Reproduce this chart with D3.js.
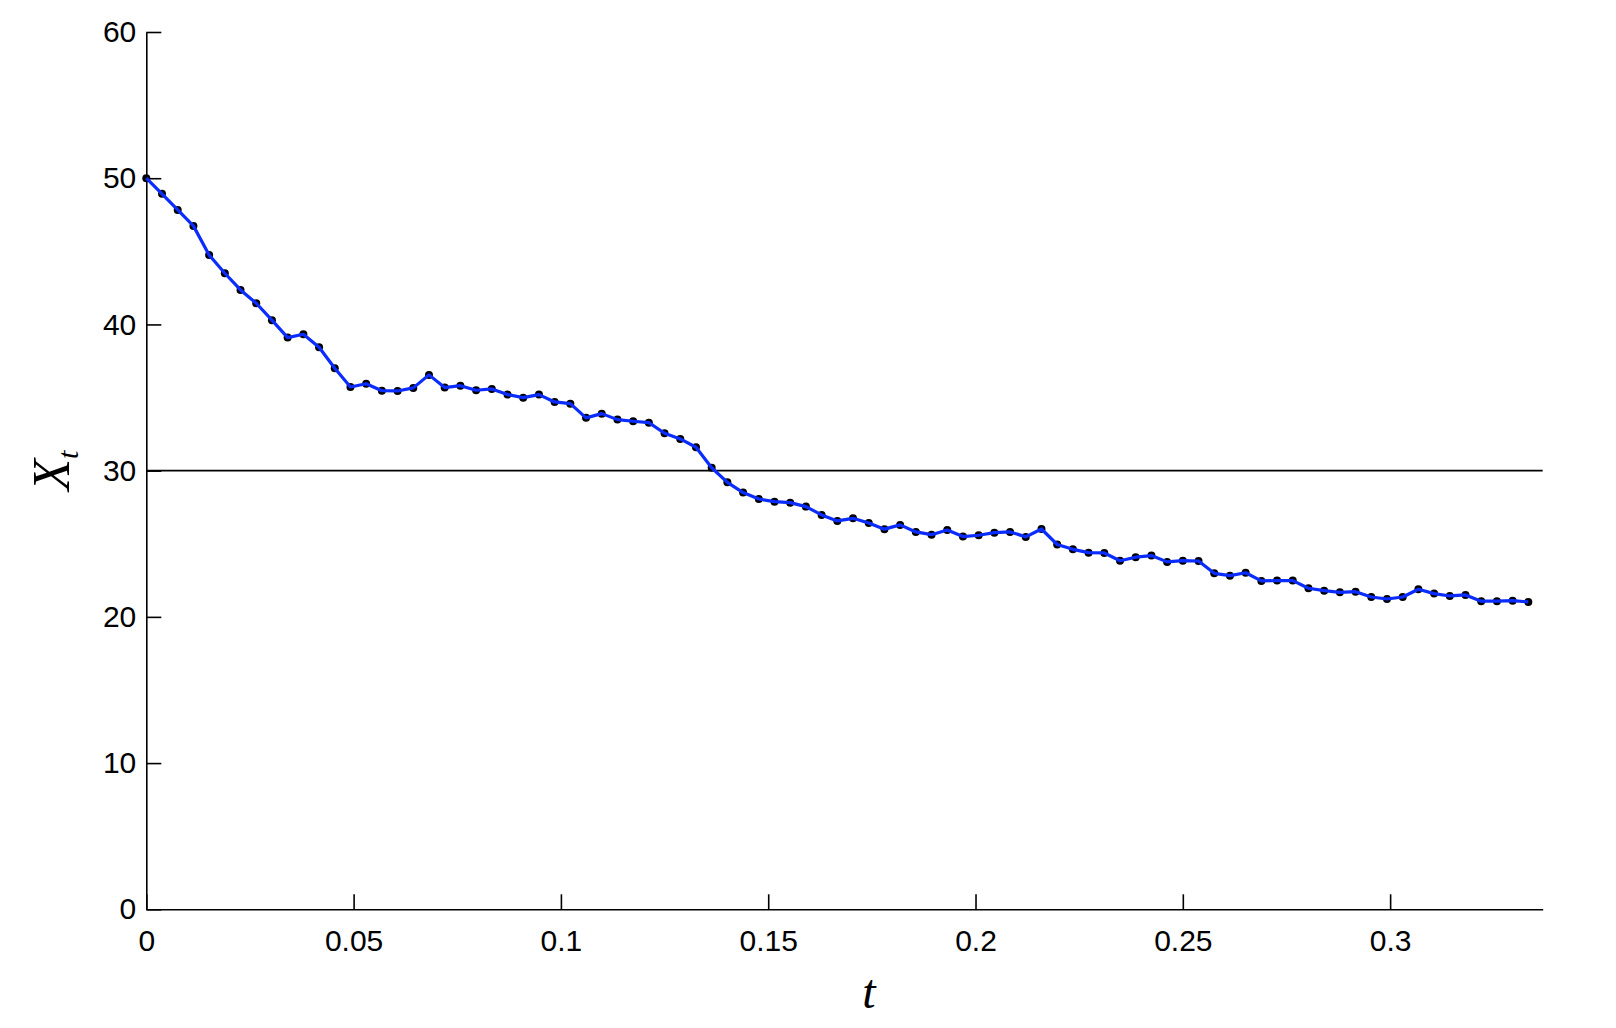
<!DOCTYPE html>
<meta charset="utf-8">
<style type="text/css">
  body {
    margin: 0;
    background: #fff;
  }

  .axis text {
    font-family: "Liberation Sans", Arial, sans-serif;
    font-size: 30px;
    fill: #000;
  }

  .axis path,
  .axis line {
    stroke: #000;
    stroke-width: 1.6px;
  }

  .label {
    font-family: "Liberation Serif", "DejaVu Serif", serif;
    font-style: italic;
  }
</style>

<body>
  <script src="https://d3js.org/d3.v7.min.js"></script>
  <script>
    var w = 1616;
    var h = 1028;

    // sample path X_t, 89 samples evenly spaced in t
    var dt = 1 / 264;
    var xVals = [50.0, 48.93, 47.83, 46.74, 44.75, 43.5, 42.36, 41.45, 40.29, 39.1,
      39.33, 38.44, 37.0, 35.72, 35.94, 35.47, 35.45, 35.66, 36.55, 35.68,
      35.81, 35.5, 35.59, 35.2, 34.99, 35.2, 34.7, 34.58, 33.61, 33.9,
      33.49, 33.38, 33.28, 32.56, 32.17, 31.6, 30.2, 29.2, 28.5, 28.06,
      27.88, 27.81, 27.54, 26.97, 26.56, 26.74, 26.42, 26.0, 26.29, 25.81,
      25.62, 25.94, 25.49, 25.58, 25.76, 25.81, 25.47, 26.01, 24.95, 24.62,
      24.39, 24.37, 23.84, 24.08, 24.19, 23.76, 23.84, 23.82, 22.98, 22.82,
      23.02, 22.46, 22.48, 22.48, 21.96, 21.79, 21.68, 21.72, 21.36, 21.22,
      21.36, 21.89, 21.59, 21.43, 21.5, 21.07, 21.07, 21.11, 21.02];
    var level = 30;

    var xTicks = [0, 0.05, 0.1, 0.15, 0.2, 0.25, 0.3];
    var yTicks = [0, 10, 20, 30, 40, 50, 60];
    var xMax = 0.3368;

    var data = xVals.map(function(v, i) {
      return { t: i * dt, x: v };
    });

    var svg = d3.select('body')
      .append('svg')
      .attr('width', w)
      .attr('height', h);

    var xScale = d3.scaleLinear().domain([0, xMax]).range([146.3, 1542.7]);
    var yScale = d3.scaleLinear().domain([0, 60]).range([909.3, 32]);

    // horizontal level line
    svg.append('line')
      .attr('x1', xScale(0))
      .attr('x2', xScale(xMax))
      .attr('y1', yScale(level))
      .attr('y2', yScale(level))
      .attr('stroke', '#000')
      .attr('stroke-width', 1.6);

    // axes, ticks pointing inward
    svg.append('g')
      .attr('class', 'axis')
      .attr('transform', 'translate(0,' + yScale(0) + ')')
      .call(d3.axisBottom(xScale)
        .tickValues(xTicks)
        .tickFormat(d3.format('~g'))
        .tickSizeInner(-15)
        .tickSizeOuter(0)
        .tickPadding(20));

    svg.append('g')
      .attr('class', 'axis')
      .attr('transform', 'translate(' + xScale(0) + ',0)')
      .call(d3.axisLeft(yScale)
        .tickValues(yTicks)
        .tickSizeInner(-15)
        .tickSizeOuter(0)
        .tickPadding(10));

    // markers then line on top
    svg.selectAll('circle.pt')
      .data(data)
      .enter()
      .append('circle')
      .attr('class', 'pt')
      .attr('cx', function(d) { return xScale(d.t); })
      .attr('cy', function(d) { return yScale(d.x); })
      .attr('r', 4)
      .attr('fill', '#000');

    svg.append('path')
      .datum(data)
      .attr('fill', 'none')
      .attr('stroke', '#0a2cff')
      .attr('stroke-width', 3.2)
      .attr('stroke-linejoin', 'round')
      .attr('d', d3.line()
        .x(function(d) { return xScale(d.t); })
        .y(function(d) { return yScale(d.x); }));

    // axis labels
    svg.append('text')
      .attr('class', 'label')
      .attr('x', 869)
      .attr('y', 1008)
      .attr('text-anchor', 'middle')
      .attr('font-size', 48)
      .text('t');

    var yl = svg.append('text')
      .attr('class', 'label')
      .attr('transform', 'translate(69,' + yScale(30) + ') rotate(-90)')
      .attr('text-anchor', 'middle')
      .attr('font-size', 52);
    yl.append('tspan').text('X');
    yl.append('tspan').attr('font-size', 30).attr('dy', 9).text('t');
  </script>
</body>
